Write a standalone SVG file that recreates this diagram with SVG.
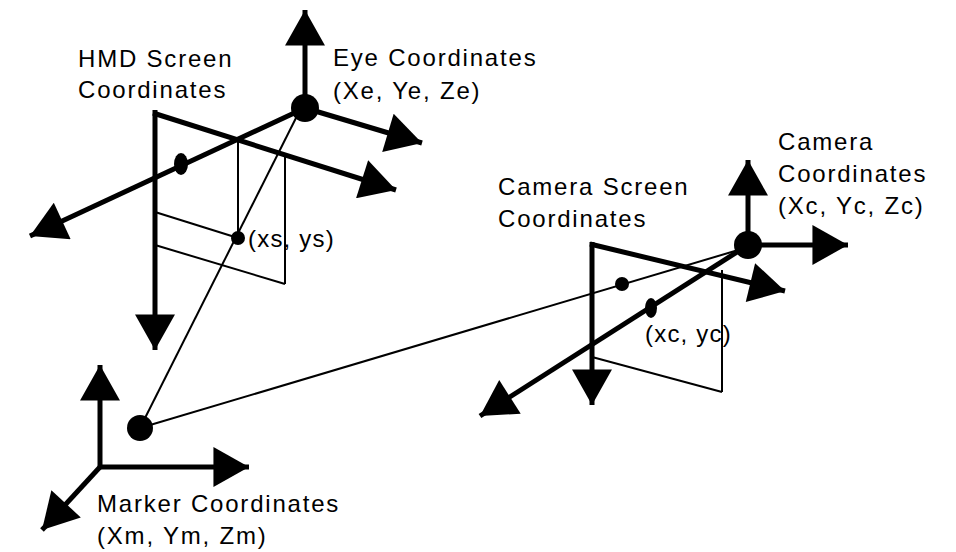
<svg xmlns="http://www.w3.org/2000/svg" width="956" height="552" viewBox="0 0 956 552">
<style>
text{font-family:"Liberation Sans",Arial,sans-serif;font-size:24px;fill:#000;letter-spacing:1.8px}
.s{letter-spacing:1.2px}
.th{stroke:#000;stroke-width:5;fill:none}
.tn{stroke:#000;stroke-width:2;fill:none}
</style>
<defs>
<marker id="a" markerUnits="userSpaceOnUse" markerWidth="40" markerHeight="40" viewBox="0 0 32 36" refX="32" refY="18" orient="auto"><path d="M0,0L32,18L0,36z" fill="#000"/></marker>
</defs>
<rect width="956" height="552" fill="#fff"/>
<g id="connectors">
<line class="tn" x1="300" y1="110" x2="140" y2="428"/>
<line class="tn" x1="745" y1="248" x2="140" y2="428"/>
</g>
<g id="hmd-screen">
<line class="th" x1="155" y1="110" x2="155" y2="350" marker-end="url(#a)"/>
<line class="th" x1="153" y1="113" x2="396" y2="190" marker-end="url(#a)"/>
<line class="tn" x1="238" y1="138" x2="238" y2="238"/>
<line class="tn" x1="285" y1="153" x2="285" y2="284"/>
<line class="tn" x1="155" y1="212" x2="238" y2="238"/>
<line class="tn" x1="155" y1="245" x2="285" y2="284"/>
<circle cx="238" cy="238" r="7"/>
<text x="78" y="67">HMD Screen</text>
<text x="78" y="98">Coordinates</text>
<text class="s" x="248" y="247">(xs, ys)</text>
</g>
<g id="eye">
<line class="th" x1="305" y1="108" x2="305" y2="10" marker-end="url(#a)"/>
<line class="th" x1="305" y1="108" x2="422" y2="143" marker-end="url(#a)"/>
<line class="th" x1="305" y1="108" x2="30" y2="236" marker-end="url(#a)"/>
<circle cx="305" cy="108" r="14"/>
<ellipse cx="181" cy="164" rx="7" ry="11"/>
<text x="333" y="66">Eye Coordinates</text>
<text x="333" y="99">(Xe, Ye, Ze)</text>
</g>
<g id="camera-screen">
<line class="th" x1="592" y1="242" x2="592" y2="405" marker-end="url(#a)"/>
<line class="th" x1="590" y1="244" x2="785" y2="291" marker-end="url(#a)"/>
<line class="tn" x1="722" y1="270" x2="722" y2="392"/>
<line class="tn" x1="592" y1="357" x2="722" y2="392"/>
<circle cx="622" cy="284" r="7"/>
<text x="498" y="195">Camera Screen</text>
<text x="498" y="227">Coordinates</text>
<text class="s" x="645" y="342">(xc, yc)</text>
</g>
<g id="camera">
<line class="th" x1="748" y1="245" x2="748" y2="160" marker-end="url(#a)"/>
<line class="th" x1="748" y1="245" x2="848" y2="245" marker-end="url(#a)"/>
<line class="th" x1="748" y1="245" x2="480" y2="416" marker-end="url(#a)"/>
<circle cx="748" cy="245" r="14"/>
<ellipse cx="651" cy="308" rx="6" ry="10"/>
<text x="778" y="150">Camera</text>
<text x="778" y="182">Coordinates</text>
<text x="778" y="214">(Xc, Yc, Zc)</text>
</g>
<g id="marker">
<line class="th" x1="100" y1="469" x2="100" y2="365" marker-end="url(#a)"/>
<line class="th" x1="98" y1="467" x2="249" y2="467" marker-end="url(#a)"/>
<line class="th" x1="100" y1="467" x2="42" y2="530" marker-end="url(#a)"/>
<circle cx="140" cy="428" r="13"/>
<text x="97" y="512">Marker Coordinates</text>
<text x="97" y="544">(Xm, Ym, Zm)</text>
</g>
</svg>
